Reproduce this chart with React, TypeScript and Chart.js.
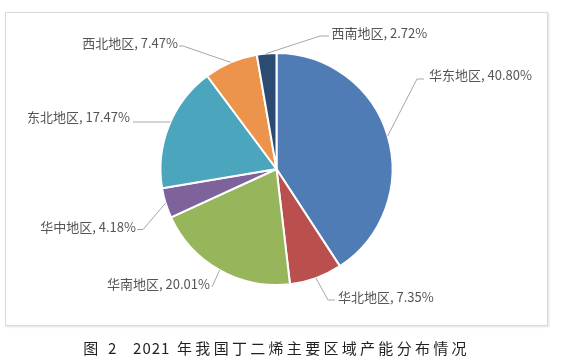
import { useEffect, useRef } from "react";
import { Chart, registerables } from "chart.js";

Chart.register(...registerables);

const categories = ["华东地区", "华北地区", "华南地区", "华中地区", "东北地区", "西北地区", "西南地区"];
const shares = [40.8, 7.35, 20.01, 4.18, 17.47, 7.47, 2.72];
const sliceColors = ["#4f7cb4", "#b9504d", "#97b65b", "#7d629c", "#4aa5bd", "#ec944b", "#2c4b70"];
const captionLead = "图 2  ";
const captionYear = "2021";
const captionRest = " 年我国丁二烯主要区域产能分布情况";

// Data label placement (text anchor, leader elbow, horizontal end)
const labelLayout = [
  { align: "left", tx: 429, ty: 75, ex: 417, ey: 79, hx: 424, flat: false },
  { align: "left", tx: 338, ty: 297, ex: 328, ey: 300, hx: 335, flat: false },
  { align: "right", tx: 210, ty: 284, ex: 212, ey: 287, hx: 212, flat: false },
  { align: "right", tx: 136, ty: 227, ex: 143, ey: 229.5, hx: 137, flat: false },
  { align: "right", tx: 130, ty: 117.5, ex: 133, ey: 122, hx: 133, flat: true },
  { align: "right", tx: 178, ty: 43.5, ex: 183, ey: 46, hx: 179, flat: false },
  { align: "left", tx: 331.5, ty: 33.3, ex: 320, ey: 36, hx: 329, flat: false },
];

const labelPlugin = {
  id: "pieLabels",
  afterDatasetsDraw(chart: any) {
    const ctx = chart.ctx;
    const meta = chart.getDatasetMeta(0);
    ctx.save();
    meta.data.forEach((arc: any, i: number) => {
      const lay = labelLayout[i];
      const { x, y, startAngle, endAngle, outerRadius } = arc.getProps(
        ["x", "y", "startAngle", "endAngle", "outerRadius"],
        true
      );
      const mid = (startAngle + endAngle) / 2;
      let px = x + Math.cos(mid) * outerRadius;
      let py = y + Math.sin(mid) * outerRadius;
      if (lay.flat) {
        const dy = lay.ey - y;
        const dx = Math.sqrt(Math.max(outerRadius * outerRadius - dy * dy, 0));
        px = x + (Math.cos(mid) < 0 ? -dx : dx);
        py = lay.ey;
      }
      ctx.strokeStyle = "#a6a6a6";
      ctx.lineWidth = 1;
      ctx.beginPath();
      ctx.moveTo(px, py);
      ctx.lineTo(lay.ex, lay.ey);
      ctx.lineTo(lay.hx, lay.ey);
      ctx.stroke();
      ctx.fillStyle = "#555555";
      ctx.font = '13px "Noto Sans CJK SC"';
      ctx.textBaseline = "middle";
      ctx.textAlign = lay.align;
      ctx.fillText(`${categories[i]}, ${shares[i].toFixed(2)}%`, lay.tx, lay.ty);
    });
    ctx.restore();
  },
};

export default function App() {
  const ref = useRef<HTMLCanvasElement | null>(null);
  useEffect(() => {
    if (!ref.current) return;
    const chart = new Chart(ref.current, {
      type: "pie",
      data: {
        labels: categories,
        datasets: [
          {
            data: shares,
            backgroundColor: sliceColors,
            borderColor: "#ffffff",
            borderWidth: 2,
          },
        ],
      },
      options: {
        responsive: false,
        animation: false,
        layout: { padding: { left: 159.5, right: 174.5, top: 52, bottom: 75 } },
        plugins: {
          legend: { display: false },
          tooltip: { enabled: false },
        },
      },
      plugins: [labelPlugin],
    });
    return () => chart.destroy();
  }, []);

  return (
    <div style={{ position: "absolute", left: 0, top: 0, width: 568, height: 361, background: "#fff" }}>
      <div
        style={{
          position: "absolute",
          left: 5,
          top: 12,
          width: 541,
          height: 312,
          border: "1px solid #d9d9d9",
          boxShadow: "1px 1px 2px rgba(0,0,0,0.12)",
        }}
      />
      <canvas ref={ref} width={568} height={361} style={{ position: "absolute", left: 0, top: 0 }} />
      <div
        style={{
          position: "absolute",
          left: 5,
          width: 543,
          top: 337,
          textAlign: "center",
          fontFamily: '"Noto Sans CJK SC"',
          fontSize: 15,
          fontWeight: 400,
          lineHeight: "22px",
          letterSpacing: 3.3,
          color: "#231f20",
          whiteSpace: "pre",
        }}
      >
        {captionLead}
        <span style={{ letterSpacing: 1 }}>{captionYear}</span>
        {captionRest}
      </div>
    </div>
  );
}
